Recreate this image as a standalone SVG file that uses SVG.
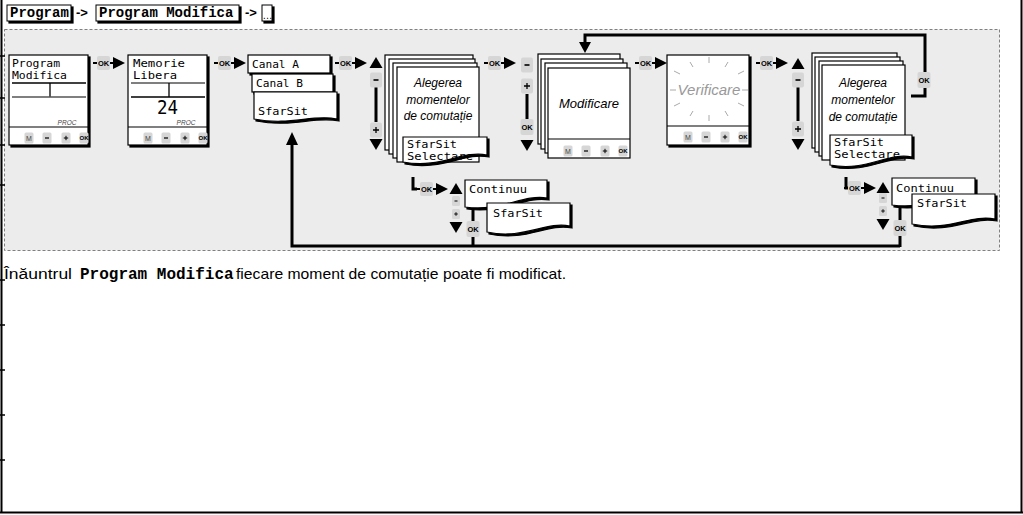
<svg xmlns="http://www.w3.org/2000/svg" xmlns:xlink="http://www.w3.org/1999/xlink" width="1023" height="515" viewBox="0 0 1023 515">
<style>
.wb{fill:#fff;stroke:#000;stroke-width:1.2}
.sh{fill:#000;stroke:#000;stroke-width:1.2}
.btn{fill:#d6d6d6}
.lcd{font-family:"DejaVu Sans Mono","Liberation Mono",monospace;font-size:10.2px;fill:#000}
.okt{font-family:"Liberation Sans",Arial,sans-serif;font-weight:bold;font-size:7.5px;fill:#000;text-anchor:middle}
.bt{font-family:"Liberation Sans",Arial,sans-serif;font-size:7px;fill:#444;text-anchor:middle}
.it{font-family:"Liberation Sans",Arial,sans-serif;font-style:italic;font-size:12px;fill:#000;text-anchor:middle}
.ln{stroke:#000;stroke-width:3;fill:none}
.ray{stroke:#aaa;stroke-width:1}
.hdr{font-family:"Liberation Mono",monospace;font-weight:bold;font-size:14px;fill:#000}
.arr{font-family:"Liberation Sans",Arial,sans-serif;font-weight:bold;font-size:13px;fill:#000}
</style>
<defs>
<g id="okc">
<line x1="0" y1="0" x2="4" y2="0" stroke="#000" stroke-width="2"/>
<rect x="4" y="-7" width="13" height="14" rx="2" class="btn"/>
<text x="10.5" y="2.7" class="okt">OK</text>
<line x1="17" y1="0" x2="21" y2="0" stroke="#000" stroke-width="2"/>
<polygon points="20,-6 32,0 20,6"/>
</g>
<g id="okb"><rect x="-6.5" y="-8" width="13" height="16" rx="2" class="btn"/><text x="0" y="2.7" class="okt">OK</text></g>
<polygon id="up" points="-6.5,11 0,0 6.5,11"/>
<polygon id="dn" points="-6.5,0 0,11 6.5,0"/>
<g id="minus"><rect x="-6" y="-7.5" width="12" height="15" rx="2" class="btn"/><line x1="-2.5" y1="0" x2="2.5" y2="0" stroke="#000" stroke-width="1.6"/></g>
<g id="plus"><rect x="-6" y="-7.5" width="12" height="15" rx="2" class="btn"/><path d="M-3 0H3M0 -3V3" stroke="#000" stroke-width="1.3"/></g>
<g id="sminus"><rect x="-4" y="-5" width="8" height="10" rx="1.5" class="btn"/><line x1="-1.5" y1="0" x2="1.5" y2="0" stroke="#000" stroke-width="1"/></g>
<g id="splus"><rect x="-4" y="-5" width="8" height="10" rx="1.5" class="btn"/><path d="M-1.8 0H1.8M0 -1.8V1.8" stroke="#000" stroke-width="0.9"/></g>
<g id="keys">
<rect x="15.5" y="-5.5" width="9" height="11" rx="1.5" class="btn"/><text x="20" y="2.5" class="bt">M</text>
<rect x="33.5" y="-5.5" width="9" height="11" rx="1.5" class="btn"/><line x1="36" y1="0" x2="40" y2="0" stroke="#000" stroke-width="1.2"/>
<rect x="52.5" y="-5.5" width="9" height="11" rx="1.5" class="btn"/><path d="M54.8 0H59.2M57 -2.2V2.2" stroke="#000" stroke-width="1"/>
<rect x="70.5" y="-5.5" width="9" height="11" rx="1.5" class="btn"/><text x="75" y="2.3" class="okt" style="font-size:6px">OK</text>
</g>
<path id="docA" d="M254,92 H337 V119 C312,114 291,126 254,119 Z"/>
<path id="docS1" d="M403,137 H487 V155 C462,150 441,169 403,162 Z"/>
<path id="docS2" d="M830,135 H912 V157 C887,152 867,172 830,165 Z"/>
<path id="docCL" d="M465,180 H547 V198 C522,194 502,212 465,207 Z"/>
<path id="docSL" d="M487,203 H570 V226 C545,221 524,240 487,232 Z"/>
<path id="docCR" d="M892,178 H975 V196 C950,192 929,210 892,205 Z"/>
<path id="docSR" d="M912,194 H995 V219 C970,214 950,232 912,224 Z"/>
</defs>

<rect x="0" y="0" width="1023" height="515" fill="#fff"/>

<!-- header breadcrumb -->
<g id="header">
<rect x="9" y="7" width="64" height="16" class="sh"/>
<rect x="7" y="5" width="64" height="16" fill="#fff" stroke="#000" stroke-width="1"/>
<text x="10" y="17" class="hdr">Program</text>
<text x="76" y="17" class="arr">-&gt;</text>
<rect x="98" y="7" width="143" height="16" class="sh"/>
<rect x="96" y="5" width="143" height="16" fill="#fff" stroke="#000" stroke-width="1"/>
<text x="99" y="17" class="hdr">Program Modifica</text>
<text x="245" y="17" class="arr">-&gt;</text>
<rect x="264" y="7" width="10" height="16" class="sh"/>
<rect x="262" y="5" width="10" height="16" fill="#fff" stroke="#000" stroke-width="1"/>
<text x="262.5" y="19" style="font-family:'Liberation Sans',sans-serif;font-size:10px">…</text>
</g>

<!-- dashed panel -->
<rect id="panel" x="4.5" y="29.5" width="995" height="221" fill="#ececec" stroke="#808080" stroke-width="1" stroke-dasharray="3 2"/>

<!-- page frame -->
<g id="frame">
<line x1="1.5" y1="0" x2="1.5" y2="513" stroke="#000" stroke-width="2"/>
<line x1="1021.5" y1="0" x2="1021.5" y2="513" stroke="#000" stroke-width="2"/>
<line x1="0" y1="512.5" x2="1023" y2="512.5" stroke="#000" stroke-width="2"/>
<path d="M0 56H5M0 98H5M0 145H5M0 185H5M0 280H5M0 325H5M0 370H5M0 415H5M0 460H5" stroke="#000" stroke-width="1.5"/>
</g>

<!-- connectors -->
<g id="connectors">
<use xlink:href="#okc" x="93" y="63"/>
<use xlink:href="#okc" x="214" y="63"/>
<use xlink:href="#okc" x="335" y="63"/>
<use xlink:href="#okc" x="484" y="63"/>
<use xlink:href="#okc" x="635" y="63"/>
<use xlink:href="#okc" x="756" y="63"/>
<use xlink:href="#up" x="376" y="57"/>
<line x1="376" y1="87" x2="376" y2="122" class="ln"/>
<use xlink:href="#minus" x="376" y="80"/>
<use xlink:href="#plus" x="376" y="130"/>
<use xlink:href="#dn" x="376" y="139"/>
<use xlink:href="#minus" x="527" y="65"/>
<use xlink:href="#plus" x="527" y="86"/>
<line x1="527" y1="94" x2="527" y2="119" class="ln"/>
<use xlink:href="#okb" x="527" y="127"/>
<use xlink:href="#dn" x="527" y="140"/>
<use xlink:href="#up" x="798" y="58"/>
<line x1="798" y1="87" x2="798" y2="121" class="ln"/>
<use xlink:href="#minus" x="798" y="80"/>
<use xlink:href="#plus" x="798" y="129"/>
<use xlink:href="#dn" x="798" y="139"/>
<path d="M911,96 H925 V35 H585 V43" class="ln"/>
<polygon points="579,42 591,42 585,53"/>
<use xlink:href="#okb" x="924" y="80"/>
<path d="M473,200 V246 M292,246 H900 M900,205 V247 M292,247.5 V144" class="ln"/>
<polygon points="286,145 298,145 292,132"/>
<path d="M413,177 V189 H417" class="ln"/>
<use xlink:href="#okc" x="416" y="189"/>
<use xlink:href="#up" x="456" y="183"/>
<use xlink:href="#sminus" x="456" y="201"/>
<use xlink:href="#splus" x="456" y="214"/>
<use xlink:href="#dn" x="456" y="222"/>
<use xlink:href="#okb" x="473" y="229"/>
<path d="M846,177 V188 H848" class="ln"/>
<use xlink:href="#okc" x="844" y="188"/>
<use xlink:href="#up" x="883" y="182"/>
<use xlink:href="#sminus" x="883" y="198"/>
<use xlink:href="#splus" x="883" y="211"/>
<use xlink:href="#dn" x="883" y="219"/>
<use xlink:href="#okb" x="900" y="228"/>
</g>

<g id="dev-program">
<rect x="11" y="57" width="79" height="90" class="sh"/>
<rect x="9" y="55" width="79" height="90" class="wb"/>
<text x="12" y="67" class="lcd" textLength="48" lengthAdjust="spacingAndGlyphs">Program</text>
<text x="12" y="79" class="lcd" textLength="55" lengthAdjust="spacingAndGlyphs">Modifica</text>
<line x1="12" y1="83" x2="86" y2="83" stroke="#000" stroke-width="1.3"/>
<line x1="50" y1="83" x2="50" y2="97" stroke="#000" stroke-width="1.3"/>
<line x1="12" y1="97" x2="86" y2="97" stroke="#555" stroke-width="1.3"/>
<text x="67" y="125" style="font-family:'Liberation Sans',sans-serif;font-style:italic;font-size:6.5px;fill:#444" text-anchor="middle">PROC</text>
<line x1="9" y1="127" x2="88" y2="127" stroke="#000" stroke-width="1.2"/>
<use xlink:href="#keys" x="9" y="138"/>
</g>

<g id="dev-memorie">
<rect x="130" y="57" width="79" height="90" class="sh"/>
<rect x="128" y="55" width="79" height="90" class="wb"/>
<text x="133" y="67" class="lcd" textLength="52" lengthAdjust="spacingAndGlyphs">Memorie</text>
<text x="133" y="79" class="lcd" textLength="44" lengthAdjust="spacingAndGlyphs">Libera</text>
<line x1="131" y1="83" x2="205" y2="83" stroke="#555" stroke-width="1.3"/>
<line x1="169" y1="83" x2="169" y2="97" stroke="#000" stroke-width="1.3"/>
<line x1="131" y1="97" x2="205" y2="97" stroke="#000" stroke-width="1.3"/>
<text x="157" y="114" style="font-family:'DejaVu Sans Mono',monospace;font-size:20px" textLength="21" lengthAdjust="spacingAndGlyphs">24</text>
<text x="186" y="125" style="font-family:'Liberation Sans',sans-serif;font-style:italic;font-size:6.5px;fill:#444" text-anchor="middle">PROC</text>
<line x1="128" y1="127" x2="207" y2="127" stroke="#000" stroke-width="1.2"/>
<use xlink:href="#keys" x="128" y="138"/>
</g>

<g id="menu-canal">
<rect x="250" y="57" width="82" height="18" class="sh"/>
<rect x="248" y="55" width="82" height="18" class="wb"/>
<text x="252" y="68" class="lcd" textLength="47" lengthAdjust="spacingAndGlyphs">Canal A</text>
<rect x="254" y="76" width="81" height="18" class="sh"/>
<rect x="252" y="74" width="81" height="18" class="wb"/>
<text x="256" y="87" class="lcd" textLength="47" lengthAdjust="spacingAndGlyphs">Canal B</text>
<use xlink:href="#docA" class="sh" transform="translate(2,2)"/>
<use xlink:href="#docA" class="wb"/>
<text x="258" y="115" class="lcd" textLength="50" lengthAdjust="spacingAndGlyphs">SfarSit</text>
</g>

<g id="stack-alegerea-1">
<rect x="385" y="55" width="88" height="95" class="wb"/>
<rect x="389" y="59" width="86" height="95" class="wb"/>
<rect x="393" y="63" width="84" height="95" class="wb"/>
<rect x="397" y="67" width="82" height="95" class="wb"/>
<text x="438" y="87" class="it">Alegerea</text>
<text x="438" y="104" class="it">momentelor</text>
<text x="438" y="120" class="it">de comutație</text>
<use xlink:href="#docS1" class="sh" transform="translate(2,2)"/>
<use xlink:href="#docS1" class="wb"/>
<text x="407" y="148" class="lcd" textLength="50" lengthAdjust="spacingAndGlyphs">SfarSit</text>
<text x="407" y="160" class="lcd" textLength="66" lengthAdjust="spacingAndGlyphs">Selectare</text>
</g>

<g id="stack-modificare">
<rect x="538" y="54" width="82" height="90" class="wb"/>
<rect x="541" y="59" width="82" height="90" class="wb"/>
<rect x="545" y="63" width="82" height="90" class="wb"/>
<rect x="548" y="68" width="82" height="90" class="wb"/>
<text x="589" y="108" class="it" style="font-size:13px">Modificare</text>
<line x1="548" y1="139" x2="630" y2="139" stroke="#000" stroke-width="1.2"/>
<use xlink:href="#keys" x="548" y="151"/>
</g>

<g id="dev-verificare">
<rect x="669" y="57" width="82" height="90" class="sh"/>
<rect x="667" y="55" width="82" height="90" class="wb"/>
<text x="709" y="95" class="it" style="font-size:15px;fill:#999">Verificare</text>
<path class="ray" d="M709,57V63 M690,62L693,67 M728,62L725,67 M674,71L680,74 M744,71L738,74 M709,115V121 M690,116L693,111 M728,116L725,111 M674,106L680,103 M744,106L738,103 M670,90H676 M742,90H748"/>
<line x1="667" y1="126" x2="749" y2="126" stroke="#000" stroke-width="1.2"/>
<use xlink:href="#keys" x="668" y="137"/>
</g>

<g id="stack-alegerea-2">
<rect x="812" y="53" width="85" height="95" class="wb"/>
<rect x="815" y="57" width="85" height="95" class="wb"/>
<rect x="819" y="61" width="84" height="95" class="wb"/>
<rect x="822" y="65" width="83" height="95" class="wb"/>
<text x="863" y="87" class="it">Alegerea</text>
<text x="863" y="104" class="it">momentelor</text>
<text x="863" y="121" class="it">de comutație</text>
<use xlink:href="#docS2" class="sh" transform="translate(2,2)"/>
<use xlink:href="#docS2" class="wb"/>
<text x="834" y="146" class="lcd" textLength="50" lengthAdjust="spacingAndGlyphs">SfarSit</text>
<text x="834" y="158" class="lcd" textLength="66" lengthAdjust="spacingAndGlyphs">Selectare</text>
</g>

<g id="menu-continuu-1">
<use xlink:href="#docCL" class="sh" transform="translate(2,2)"/>
<use xlink:href="#docCL" class="wb"/>
<text x="469" y="193" class="lcd" textLength="58" lengthAdjust="spacingAndGlyphs">Continuu</text>
<use xlink:href="#docSL" class="sh" transform="translate(2,2)"/>
<use xlink:href="#docSL" class="wb"/>
<text x="493" y="217" class="lcd" textLength="50" lengthAdjust="spacingAndGlyphs">SfarSit</text>
</g>

<g id="menu-continuu-2">
<use xlink:href="#docCR" class="sh" transform="translate(2,2)"/>
<use xlink:href="#docCR" class="wb"/>
<text x="896" y="192" class="lcd" textLength="58" lengthAdjust="spacingAndGlyphs">Continuu</text>
<use xlink:href="#docSR" class="sh" transform="translate(2,2)"/>
<use xlink:href="#docSR" class="wb"/>
<text x="917" y="207" class="lcd" textLength="50" lengthAdjust="spacingAndGlyphs">SfarSit</text>
</g>

<g id="caption">
<text x="4" y="279" style="font-family:'Liberation Sans',Arial,sans-serif;font-size:15.5px" textLength="68" lengthAdjust="spacingAndGlyphs">Înăuntrul</text>
<text x="80" y="279" style="font-family:'Liberation Mono',monospace;font-weight:bold;font-size:16px">Program Modifica</text>
<text x="236" y="279" style="font-family:'Liberation Sans',Arial,sans-serif;font-size:15px" textLength="330" lengthAdjust="spacingAndGlyphs">fiecare moment de comutație poate fi modificat.</text>
</g>
</svg>
